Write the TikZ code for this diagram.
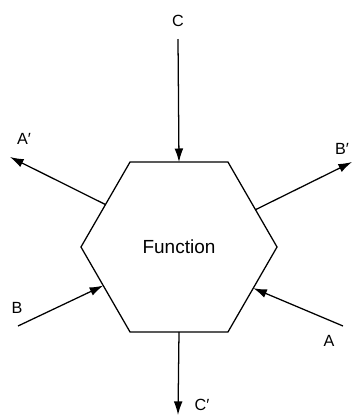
\documentclass[tikz,border=0pt]{standalone}
\usepackage{fontspec}
\setmainfont{Liberation Sans}
\usetikzlibrary{arrows.meta,shapes.geometric}

\begin{document}
\begin{tikzpicture}[x=0.025cm, y=-0.025cm,
  funcbox/.style={draw, regular polygon, regular polygon sides=6,
    minimum size=4.9cm, inner sep=0pt, outer sep=0pt,
    line width=0.9pt, font=\fontsize{13.5}{16}\selectfont},
  lbl/.style={font=\fontsize{11.5}{14}\selectfont, inner sep=0pt},
  flow/.style={line width=0.9pt, -{Latex[length=3.4mm,width=2.2mm]}}
]
\useasboundingbox (0,0) rectangle (354,416);

\node[funcbox] (func) at (179,247) {Function};

\coordinate (cin)  at (178,39);
\coordinate (cout) at (178,415);
\coordinate (aout) at (10,157);
\coordinate (bout) at (352,162);
\coordinate (bin)  at (18,326);
\coordinate (ain)  at (343,326);

\node[lbl] (lc)  at (178,21)  {C};
\node[lbl] (lc') at (202,405) {C′};
\node[lbl] (la') at (24,139)  {A′};
\node[lbl] (lb') at (342,149) {B′};
\node[lbl] (lb)  at (17,308)  {B};
\node[lbl] (la)  at (329,341) {A};

\draw[flow] (cin) -- (func.90);
\draw[flow] (func.270) -- (cout);
\draw[flow] (func.150) -- (aout);
\draw[flow] (func.26) -- (bout);
\draw[flow] (bin) -- (func.207);
\draw[flow] (ain) -- (func.331);
\end{tikzpicture}
\end{document}
